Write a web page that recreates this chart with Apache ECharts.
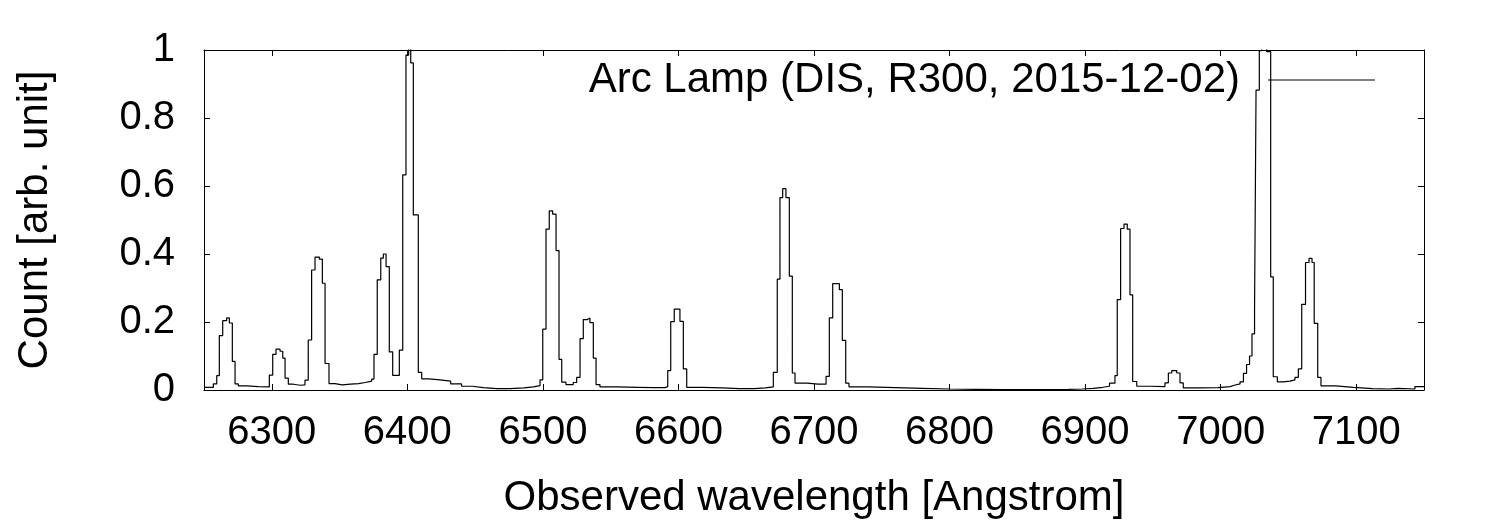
<!DOCTYPE html>
<html>
<head>
<meta charset="utf-8">
<script src="https://cdn.jsdelivr.net/npm/echarts@6/dist/echarts.min.js"></script>
<style>
  html, body { margin: 0; padding: 0; background: #fff; }
  #chart { width: 1500px; height: 525px; }
</style>
</head>
<body>
<div id="chart"></div>
<script>
// Left edge of each spectral bin [Angstrom] (last entry closes the final bin)
const binStart = [
  6250.0, 6256.9, 6259.4, 6261.3, 6263.8, 6266.7, 6268.7, 6270.9, 6272.9, 6275.3,
  6282.0, 6290.0, 6298.2, 6300.7, 6303.1, 6306.1, 6308.1, 6309.8, 6312.2, 6316.0,
  6321.0, 6324.5, 6326.9, 6329.4, 6331.9, 6335.1, 6337.3, 6339.3, 6342.2, 6346.6,
  6352.0, 6358.0, 6364.0, 6369.0, 6373.7, 6375.4, 6377.8, 6380.4, 6382.3, 6384.3,
  6386.7, 6389.2, 6394.1, 6396.6, 6399.0, 6401.0, 6402.5, 6404.4, 6408.1, 6410.6,
  6416.0, 6424.0, 6432.0, 6440.0, 6448.0, 6456.0, 6466.0, 6476.0, 6486.0, 6493.0,
  6497.9, 6499.9, 6502.3, 6504.7, 6507.2, 6509.7, 6511.9, 6513.9, 6517.0, 6522.4,
  6524.9, 6527.4, 6529.8, 6532.8, 6534.7, 6537.2, 6539.2, 6542.1, 6555.0, 6570.0,
  6582.0, 6590.1, 6592.1, 6594.3, 6596.9, 6601.1, 6603.6, 6606.1, 6618.0, 6632.0,
  6645.0, 6656.0, 6664.0, 6670.0, 6672.9, 6674.9, 6676.9, 6679.3, 6681.8, 6684.0,
  6686.0, 6695.0, 6703.0, 6708.9, 6711.3, 6713.8, 6718.7, 6720.9, 6723.4, 6725.8,
  6740.0, 6760.0, 6780.0, 6800.0, 6820.0, 6840.0, 6860.0, 6875.0, 6888.0, 6898.0,
  6906.0, 6913.0, 6918.0, 6922.0, 6923.7, 6926.2, 6928.7, 6931.1, 6933.1, 6935.1,
  6938.1, 6948.0, 6958.9, 6961.4, 6963.9, 6967.6, 6970.0, 6972.4, 6985.0, 6998.0,
  7007.0, 7010.0, 7014.3, 7016.8, 7019.1, 7021.3, 7023.1, 7025.0, 7026.1, 7028.5,
  7030.3, 7033.9, 7036.9, 7038.8, 7041.8, 7046.0, 7051.1, 7054.8, 7057.3, 7059.8,
  7062.6, 7065.2, 7067.4, 7069.0, 7071.6, 7074.0, 7085.0, 7098.0, 7112.0, 7124.0,
  7131.0, 7143.3, 7150.0
];
// Normalised count in each bin
const count = [
  0.008, 0.018, 0.042, 0.160, 0.204, 0.212, 0.197, 0.084, 0.018, 0.012,
  0.010, 0.009, 0.044, 0.105, 0.120, 0.114, 0.094, 0.035, 0.017, 0.014,
  0.015, 0.029, 0.147, 0.353, 0.391, 0.385, 0.314, 0.078, 0.019, 0.015,
  0.017, 0.019, 0.022, 0.026, 0.032, 0.105, 0.324, 0.388, 0.400, 0.363,
  0.112, 0.043, 0.117, 0.633, 0.985, 1.030, 0.962, 0.515, 0.052, 0.033,
  0.030, 0.026, 0.018, 0.011, 0.007, 0.004, 0.004, 0.006, 0.009, 0.013,
  0.030, 0.179, 0.473, 0.527, 0.517, 0.410, 0.090, 0.023, 0.016, 0.022,
  0.037, 0.151, 0.207, 0.212, 0.198, 0.094, 0.016, 0.009, 0.008, 0.007,
  0.007, 0.010, 0.057, 0.201, 0.238, 0.202, 0.062, 0.008, 0.006, 0.004,
  0.004, 0.006, 0.009, 0.052, 0.326, 0.566, 0.592, 0.566, 0.335, 0.050,
  0.020, 0.017, 0.017, 0.040, 0.212, 0.313, 0.295, 0.146, 0.020, 0.009,
  0.007, 0.005, 0.003, 0.002, 0.001, 0.001, 0.001, 0.002, 0.003, 0.005,
  0.008, 0.011, 0.020, 0.042, 0.266, 0.475, 0.488, 0.473, 0.280, 0.025,
  0.011, 0.010, 0.021, 0.050, 0.057, 0.050, 0.021, 0.006, 0.007, 0.010,
  0.014, 0.018, 0.024, 0.049, 0.075, 0.100, 0.165, 0.240, 0.882, 0.998,
  1.200, 0.995, 0.333, 0.039, 0.024, 0.026, 0.030, 0.037, 0.062, 0.252,
  0.375, 0.387, 0.375, 0.196, 0.037, 0.012, 0.008, 0.004, 0.003, 0.005,
  0.003, 0.010, 0.010
];
const xTicks = [6300, 6400, 6500, 6600, 6700, 6800, 6900, 7000, 7100];
const yTicks = [0, 0.2, 0.4, 0.6, 0.8, 1];
const seriesName = 'Arc Lamp (DIS, R300, 2015-12-02)';
const xTitle = 'Observed wavelength [Angstrom]';
const yTitle = 'Count [arb. unit]';

const FONT = 'Liberation Sans';
const data = binStart.map((x, i) => [x, count[i]]);

const chart = echarts.init(document.getElementById('chart'), null, { renderer: 'canvas' });
const axisLine = { show: true, onZero: false, lineStyle: { color: '#000', width: 1 } };
const tick = { show: true, inside: true, length: 6, lineStyle: { color: '#000', width: 1 } };

chart.setOption({
  animation: false,
  backgroundColor: '#fff',
  grid: { left: 204, right: 76, top: 50, bottom: 135, containLabel: false },
  legend: {
    data: [{ name: seriesName, icon: 'rect' }],
    right: 125,
    top: 59,
    padding: 0,
    itemWidth: 107,
    itemHeight: 1.2,
    align: 'right',
    itemStyle: { color: '#000' },
    textStyle: { fontFamily: FONT, fontSize: 42, color: '#000', padding: [0, 23, 0, 0] }
  },
  xAxis: [
    {
      type: 'value', min: 6250, max: 7150, position: 'bottom',
      axisLine: axisLine,
      axisTick: Object.assign({ customValues: xTicks }, tick),
      axisLabel: {
        customValues: xTicks, fontFamily: FONT, fontSize: 40, color: '#000', margin: 23,
        formatter: v => String(v)
      },
      splitLine: { show: false },
      name: xTitle, nameLocation: 'middle', nameGap: 87,
      nameTextStyle: { fontFamily: FONT, fontSize: 42, color: '#000' }
    },
    {
      type: 'value', min: 6250, max: 7150, position: 'top',
      axisLine: axisLine,
      axisTick: Object.assign({ customValues: xTicks }, tick),
      axisLabel: { show: false },
      splitLine: { show: false }
    }
  ],
  yAxis: [
    {
      type: 'value', min: 0, max: 1, interval: 0.2, position: 'left',
      axisLine: axisLine,
      axisTick: Object.assign({ customValues: yTicks }, tick),
      axisLabel: { customValues: yTicks, fontFamily: FONT, fontSize: 40, color: '#000', margin: 29 },
      splitLine: { show: false },
      name: yTitle, nameLocation: 'middle', nameGap: 148, nameRotate: 90,
      nameTextStyle: { fontFamily: FONT, fontSize: 42, color: '#000' }
    },
    {
      type: 'value', min: 0, max: 1, interval: 0.2, position: 'right',
      axisLine: axisLine,
      axisTick: Object.assign({ customValues: yTicks }, tick),
      axisLabel: { show: false },
      splitLine: { show: false }
    }
  ],
  series: [
    {
      name: seriesName,
      type: 'line',
      step: 'end',
      symbol: 'none',
      clip: true,
      xAxisIndex: 0,
      yAxisIndex: 0,
      lineStyle: { color: '#000', width: 1.2 },
      itemStyle: { color: '#000' },
      data: data
    }
  ]
});
</script>
</body>
</html>
